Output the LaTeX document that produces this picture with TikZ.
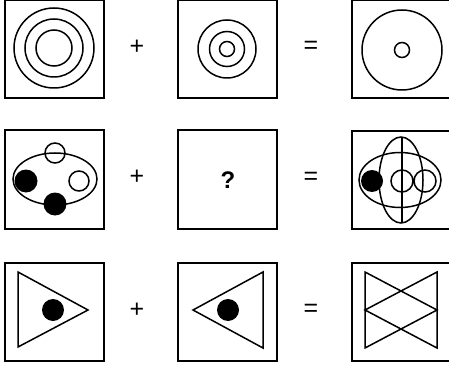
\documentclass[tikz,border=0pt]{standalone}
\usepackage{fontspec}
\setmainfont{Liberation Sans}
\begin{document}
\begin{tikzpicture}[x=1pt,y=-1pt,
  panel/.style={draw,line width=2pt,minimum width=99pt,minimum height=98pt,inner sep=0pt},
  shp/.style={line width=1.5pt},
  op/.style={font=\fontsize{25}{25}\selectfont,inner sep=0pt},
  qm/.style={font=\bfseries\fontsize{24}{24}\selectfont,inner sep=0pt}]
\useasboundingbox (0,0) rectangle (449,366);
\begin{scope}
\clip (0,0) rectangle (449,366);
% boxes
\node[panel] (b11) at (54.5,49.5) {};
\node[panel] (b12) at (227,49.5) {};
\node[panel] (b13) at (401.5,49.5) {};
\node[panel] (b21) at (54.5,179.5) {};
\node[panel] (b22) at (227,179.5) {};
\node[panel] (b23) at (401.5,180) {};
\node[panel] (b31) at (54.5,311.5) {};
\node[panel] (b32) at (227,312) {};
\node[panel] (b33) at (401.5,312) {};
\end{scope}
% operators
\node[op] (p1) at (137,47) {+};
\node[op] (e1) at (311,47) {=};
\node[op] (p2) at (137,177) {+};
\node[op] (e2) at (311,178) {=};
\node[op] (p3) at (137,310) {+};
\node[op] (e3) at (311,310) {=};
\node[qm] (q) at (228,180) {?};
% row 1
\draw[shp] (54,48) circle (40) (54,48) circle (29) (54,48) circle (18);
\draw[shp] (227,49) circle (29) (227,49) circle (17.5) (227,49) circle (7.5);
\draw[shp] (402,50) circle (40) (402,50) circle (7.5);
% row 2 box 1
\draw[shp] (55,179) ellipse (42 and 26);
\draw[shp] (55,153) circle (10);
\draw[shp] (79,181) circle (10);
\fill (26,181) circle (11.5);
\fill (55,204) circle (11.5);
% row 2 box 3
\draw[shp] (400,180) ellipse (41 and 27.5);
\draw[shp] (401,180) ellipse (22 and 43);
\draw[shp] (402,137) -- (402,223);
\fill (372,181) circle (11);
\draw[shp] (402,181) circle (11) (425,181) circle (11);
% row 3
\draw[shp] (18,272) -- (18,347) -- (88,310) -- cycle;
\fill (53,310) circle (11);
\draw[shp] (263,272) -- (263,348) -- (193,310) -- cycle;
\fill (228,310) circle (11);
\draw[shp] (365,272) -- (365,348) -- (437,310) -- cycle;
\draw[shp] (437,272) -- (437,348) -- (365,310) -- cycle;
\end{tikzpicture}
\end{document}
